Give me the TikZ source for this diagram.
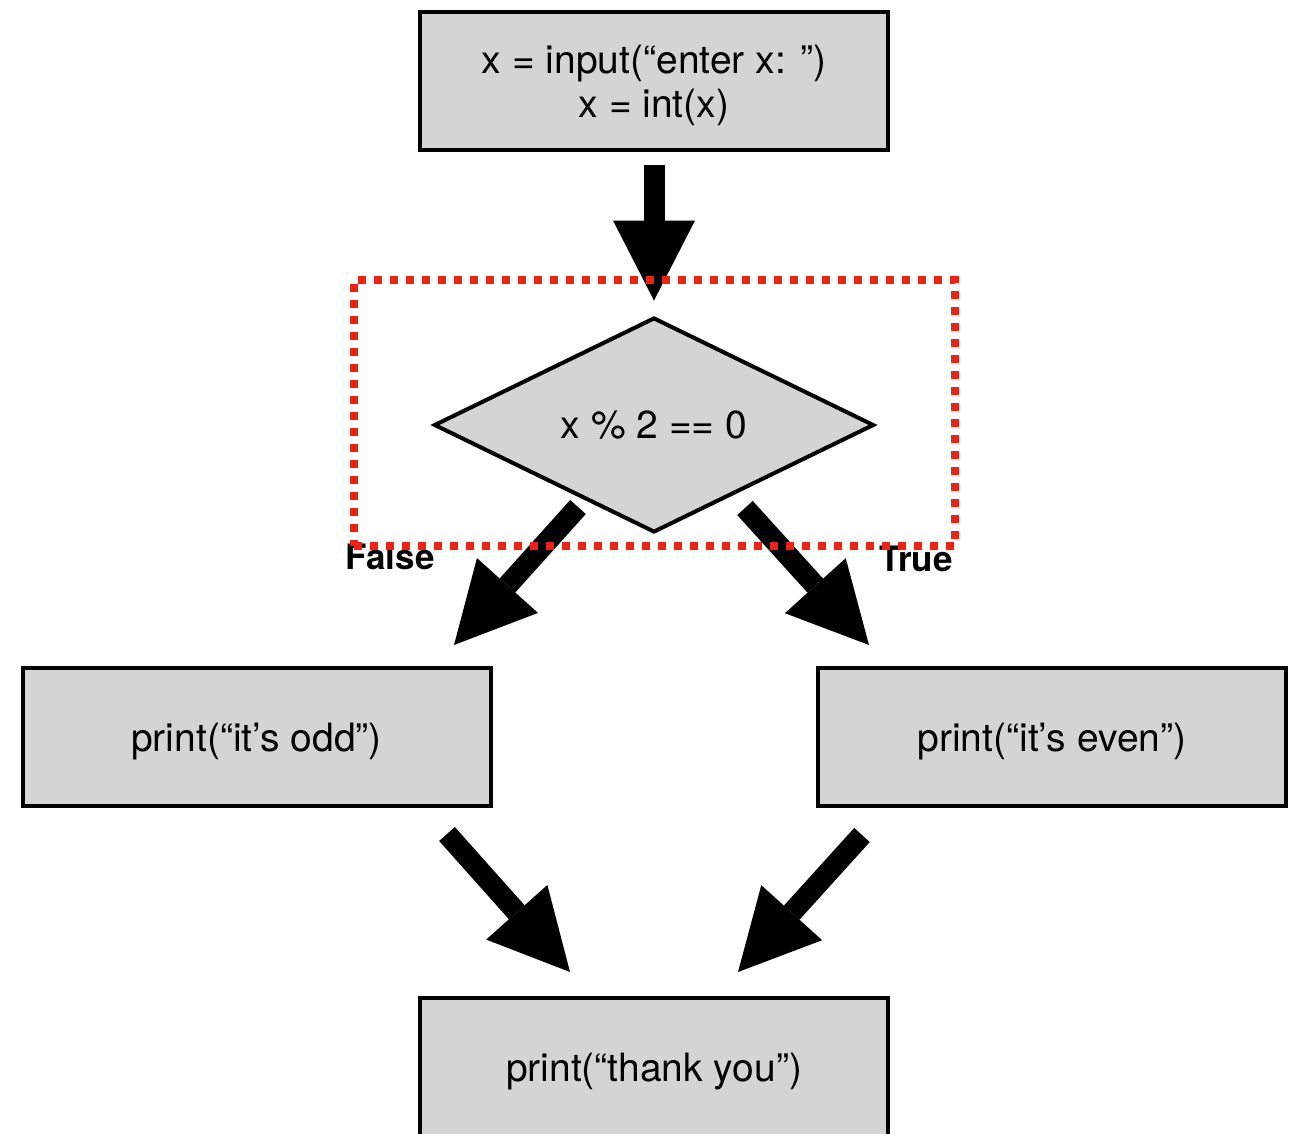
\documentclass[tikz,border=0pt]{standalone}
\usepackage{fontspec}
\setmainfont{TeX Gyre Heros}
\usepackage{tikz}
\usetikzlibrary{arrows.meta, shapes.geometric}
\definecolor{boxgray}{RGB}{212,212,212}
\definecolor{dotred}{RGB}{238,34,17}

\begin{document}
\begin{tikzpicture}[
  x=1pt, y=-1pt,
  block/.style={draw, line width=4pt, fill=boxgray, minimum width=468pt,
                minimum height=138pt, inner sep=0pt, align=center, text depth=0pt,
                font=\fontsize{39}{44}\selectfont},
  decision/.style={diamond, draw, line width=4pt, fill=boxgray, minimum width=440pt,
                minimum height=200pt, inner sep=0pt, font=\fontsize{39}{44}\selectfont},
  arr/.style={-{Triangle[length=80pt, width=82pt, line width=0pt]}, line width=21pt},
  lab/.style={font=\fontsize{35}{40}\selectfont\bfseries},
  guard/.style={draw=dotred, line width=8pt, dash pattern=on 8pt off 8pt,
                minimum width=601pt, minimum height=266pt, inner sep=0pt}
]
\useasboundingbox (0,0) rectangle (1301,1134);

% --- blocks ---
\node[block]    (input) at (654,81)    {x = input(“enter x: ”)\\x = int(x)};
\node[decision] (cond)  at (654,425)   {x \% 2 == 0};
\node[block]    (odd)   at (256.5,737) {print(“it’s odd”)};
\node[block]    (even)  at (1052,737)  {print(“it’s even”)};
\node[block]    (thanks) at (654,1067) {print(“thank you”)};

% --- branch labels ---
\node[lab] (flab) at (390,557) {False};
\node[lab] (tlab) at (916,559) {True};

% --- free arrow ends ---
\coordinate (fstart) at (578,507);
\coordinate (fend)   at (454,645);
\coordinate (tstart) at (745,508);
\coordinate (tend)   at (869,645);
\coordinate (ostart) at (447,834);
\coordinate (oend)   at (570,972);
\coordinate (estart) at (862,835);
\coordinate (eend)   at (738,972);

% --- arrows ---
\draw[arr, shorten <=13pt, shorten >=15pt] (input) -- (cond);
\draw[arr] (fstart) -- (fend);
\draw[arr] (tstart) -- (tend);
\draw[arr] (ostart) -- (oend);
\draw[arr] (estart) -- (eend);

% --- dotted frame round the test ---
\node[guard] (frame) at (654.25,413) {};

\end{tikzpicture}
\end{document}
